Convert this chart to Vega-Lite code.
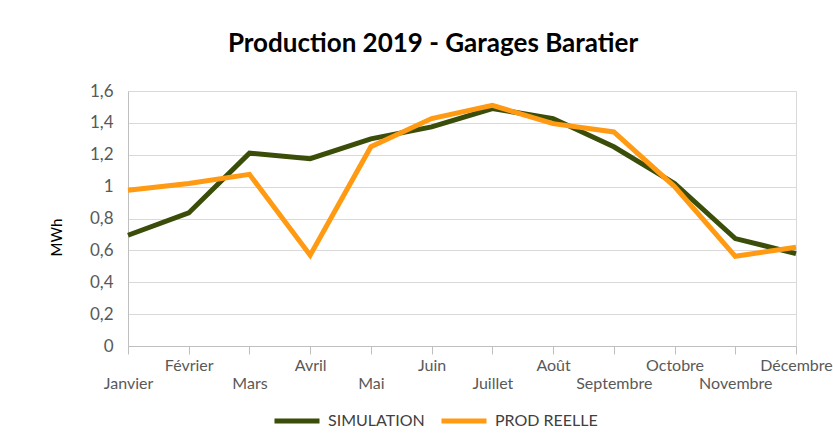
{
  "$schema": "https://vega.github.io/schema/vega-lite/v6.json",
  "width": 668,
  "height": 255,
  "autosize": {"type": "none"},
  "padding": {"left": 128, "top": 91, "right": 37, "bottom": 90},
  "background": "white",
  "title": {
    "text": "Production 2019 - Garages Baratier",
    "font": "Lato",
    "fontSize": 26,
    "fontWeight": "bold",
    "color": "#000000",
    "anchor": "middle",
    "dx": -29,
    "offset": 25
  },
  "config": {
    "view": {"stroke": "#d9d9d9", "strokeWidth": 1},
    "font": "Lato"
  },
  "data": {
    "values": [
      {"mois": "Janvier", "serie": "SIMULATION", "mwh": 0.695},
      {"mois": "Février", "serie": "SIMULATION", "mwh": 0.835},
      {"mois": "Mars", "serie": "SIMULATION", "mwh": 1.21},
      {"mois": "Avril", "serie": "SIMULATION", "mwh": 1.175},
      {"mois": "Mai", "serie": "SIMULATION", "mwh": 1.30},
      {"mois": "Juin", "serie": "SIMULATION", "mwh": 1.375},
      {"mois": "Juillet", "serie": "SIMULATION", "mwh": 1.49},
      {"mois": "Août", "serie": "SIMULATION", "mwh": 1.427},
      {"mois": "Septembre", "serie": "SIMULATION", "mwh": 1.25},
      {"mois": "Octobre", "serie": "SIMULATION", "mwh": 1.02},
      {"mois": "Novembre", "serie": "SIMULATION", "mwh": 0.674},
      {"mois": "Décembre", "serie": "SIMULATION", "mwh": 0.58},
      {"mois": "Janvier", "serie": "PROD REELLE", "mwh": 0.977},
      {"mois": "Février", "serie": "PROD REELLE", "mwh": 1.02},
      {"mois": "Mars", "serie": "PROD REELLE", "mwh": 1.077},
      {"mois": "Avril", "serie": "PROD REELLE", "mwh": 0.57},
      {"mois": "Mai", "serie": "PROD REELLE", "mwh": 1.25},
      {"mois": "Juin", "serie": "PROD REELLE", "mwh": 1.427},
      {"mois": "Juillet", "serie": "PROD REELLE", "mwh": 1.51},
      {"mois": "Août", "serie": "PROD REELLE", "mwh": 1.395},
      {"mois": "Septembre", "serie": "PROD REELLE", "mwh": 1.343},
      {"mois": "Octobre", "serie": "PROD REELLE", "mwh": 1.0},
      {"mois": "Novembre", "serie": "PROD REELLE", "mwh": 0.563},
      {"mois": "Décembre", "serie": "PROD REELLE", "mwh": 0.62}
    ]
  },
  "mark": {"type": "line", "strokeWidth": 5, "strokeJoin": "miter", "strokeCap": "butt"},
  "encoding": {
    "x": {
      "field": "mois",
      "type": "nominal",
      "sort": ["Janvier", "Février", "Mars", "Avril", "Mai", "Juin", "Juillet", "Août", "Septembre", "Octobre", "Novembre", "Décembre"],
      "scale": {"type": "point", "padding": 0},
      "axis": {
        "title": null,
        "labelAngle": 0,
        "labelFont": "Lato",
        "labelFontSize": 16,
        "labelColor": "#595959",
        "labelPadding": {
          "condition": {"test": "indexof(['Janvier','Mars','Mai','Juillet','Septembre','Novembre'], datum.value) >= 0", "value": 21},
          "value": 3
        },
        "labelOverlap": false,
        "labelBaseline": "top",
        "labelBound": false,
        "tickSize": 8,
        "tickColor": "#bfbfbf",
        "domainColor": "#bfbfbf",
        "grid": false
      }
    },
    "y": {
      "field": "mwh",
      "type": "quantitative",
      "scale": {"domain": [0, 1.6], "nice": false},
      "axis": {
        "title": "MWh",
        "titleFont": "Lato",
        "titleFontSize": 15,
        "titleFontWeight": "normal",
        "titleColor": "#000000",
        "titleAngle": -90,
        "titleX": -72,
        "titleY": 146,
        "titleAlign": "center",
        "titleBaseline": "middle",
        "values": [0, 0.2, 0.4, 0.6, 0.8, 1, 1.2, 1.4, 1.6],
        "labelExpr": "replace(format(datum.value, '.1~f'), '.', ',')",
        "labelFont": "Lato",
        "labelFontSize": 17,
        "labelColor": "#595959",
        "labelPadding": 15,
        "ticks": false,
        "tickSize": 0,
        "domainColor": "#bfbfbf",
        "gridColor": "#d9d9d9",
        "gridWidth": 1
      }
    },
    "color": {
      "field": "serie",
      "type": "nominal",
      "scale": {"domain": ["SIMULATION", "PROD REELLE"], "range": ["#3a4d09", "#ff9a12"]},
      "legend": {
        "title": null,
        "orient": "none",
        "direction": "horizontal",
        "legendX": 144,
        "legendY": 305,
        "padding": 0,
        "symbolType": "stroke",
        "symbolSize": 2025,
        "symbolStrokeWidth": 5,
        "labelFont": "Lato",
        "labelFontSize": 16,
        "labelColor": "#404040",
        "labelOffset": 6,
        "columnPadding": 6
      }
    }
  }
}
